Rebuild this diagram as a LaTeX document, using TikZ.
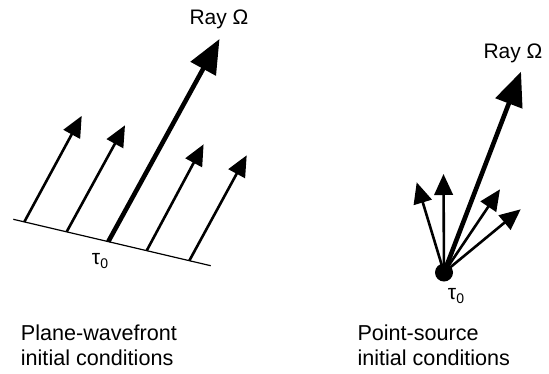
\documentclass[tikz,border=0pt]{standalone}
\usepackage{fontspec}
\setmainfont{Liberation Sans}
\usetikzlibrary{arrows.meta}

\newcommand{\tauzero}{τ\raisebox{-0.3ex}{\fontsize{14}{14}\selectfont 0}}

\tikzset{
  lbl/.style={inner sep=0pt, font=\fontsize{21}{25}\selectfont},
  captiontext/.style={lbl, font=\fontsize{21.6}{25}\selectfont, anchor=base west, align=left},
  ray/.style={line width=2.6pt, -{Triangle[length=21pt,width=18.5pt]}},
  mainray/.style={line width=4.6pt, -{Triangle[length=34pt,width=28pt]}},
  front/.style={line width=1.2pt},
}

\begin{document}
\begin{tikzpicture}[x=1pt,y=-1pt]
\useasboundingbox (0,0) rectangle (549,373);

% ---- plane wavefront ----
\coordinate (wl) at (13.3,219.3);
\coordinate (wr) at (210.7,265.7);
\draw[front] (wl) -- (wr);

\coordinate (p1s) at (24.3,221.9);   \coordinate (p1t) at (81.7,115.9);
\coordinate (p2s) at (66.7,231.7);   \coordinate (p2t) at (125.0,125.3);
\coordinate (p3s) at (108.3,241.6);  \coordinate (p3t) at (219.5,39.0);
\coordinate (p4s) at (146.7,250.6);  \coordinate (p4t) at (203.6,144.3);
\coordinate (p5s) at (189.3,260.7);  \coordinate (p5t) at (246.7,155.3);

\draw[ray] (p1s) -- (p1t);
\draw[ray] (p2s) -- (p2t);
\draw[mainray] (p3s) -- (p3t);
\draw[ray] (p4s) -- (p4t);
\draw[ray] (p5s) -- (p5t);

\node[lbl, anchor=base west] (rayA) at (189.3,24) {Ray Ω};
\node[lbl] (tauA) at (100,261) {\tauzero};

% ---- point source ----
\node[circle, fill=black, minimum size=18pt, inner sep=0pt] (src) at (444,272.5) {};
\coordinate (q1t) at (416.7,182.3);
\coordinate (q2t) at (443.5,174.0);
\coordinate (q3t) at (521.0,71.7);
\coordinate (q4t) at (500.0,189.3);
\coordinate (q5t) at (520.7,209.3);

\draw[ray] (src.center) -- (q1t);
\draw[ray] (src.center) -- (q2t);
\draw[mainray] (src.center) -- (q3t);
\draw[ray] (src.center) -- (q4t);
\draw[ray] (src.center) -- (q5t);

\node[lbl, anchor=base west] (rayB) at (483.3,58.5) {Ray Ω};
\node[lbl] (tauB) at (456,296) {\tauzero};

% ---- captions (base anchor sits on the last line) ----
\node[captiontext] (capA) at (20.7,365) {Plane-wavefront\\initial conditions};
\node[captiontext] (capB) at (357.3,365) {Point-source\\initial conditions};
\end{tikzpicture}
\end{document}
